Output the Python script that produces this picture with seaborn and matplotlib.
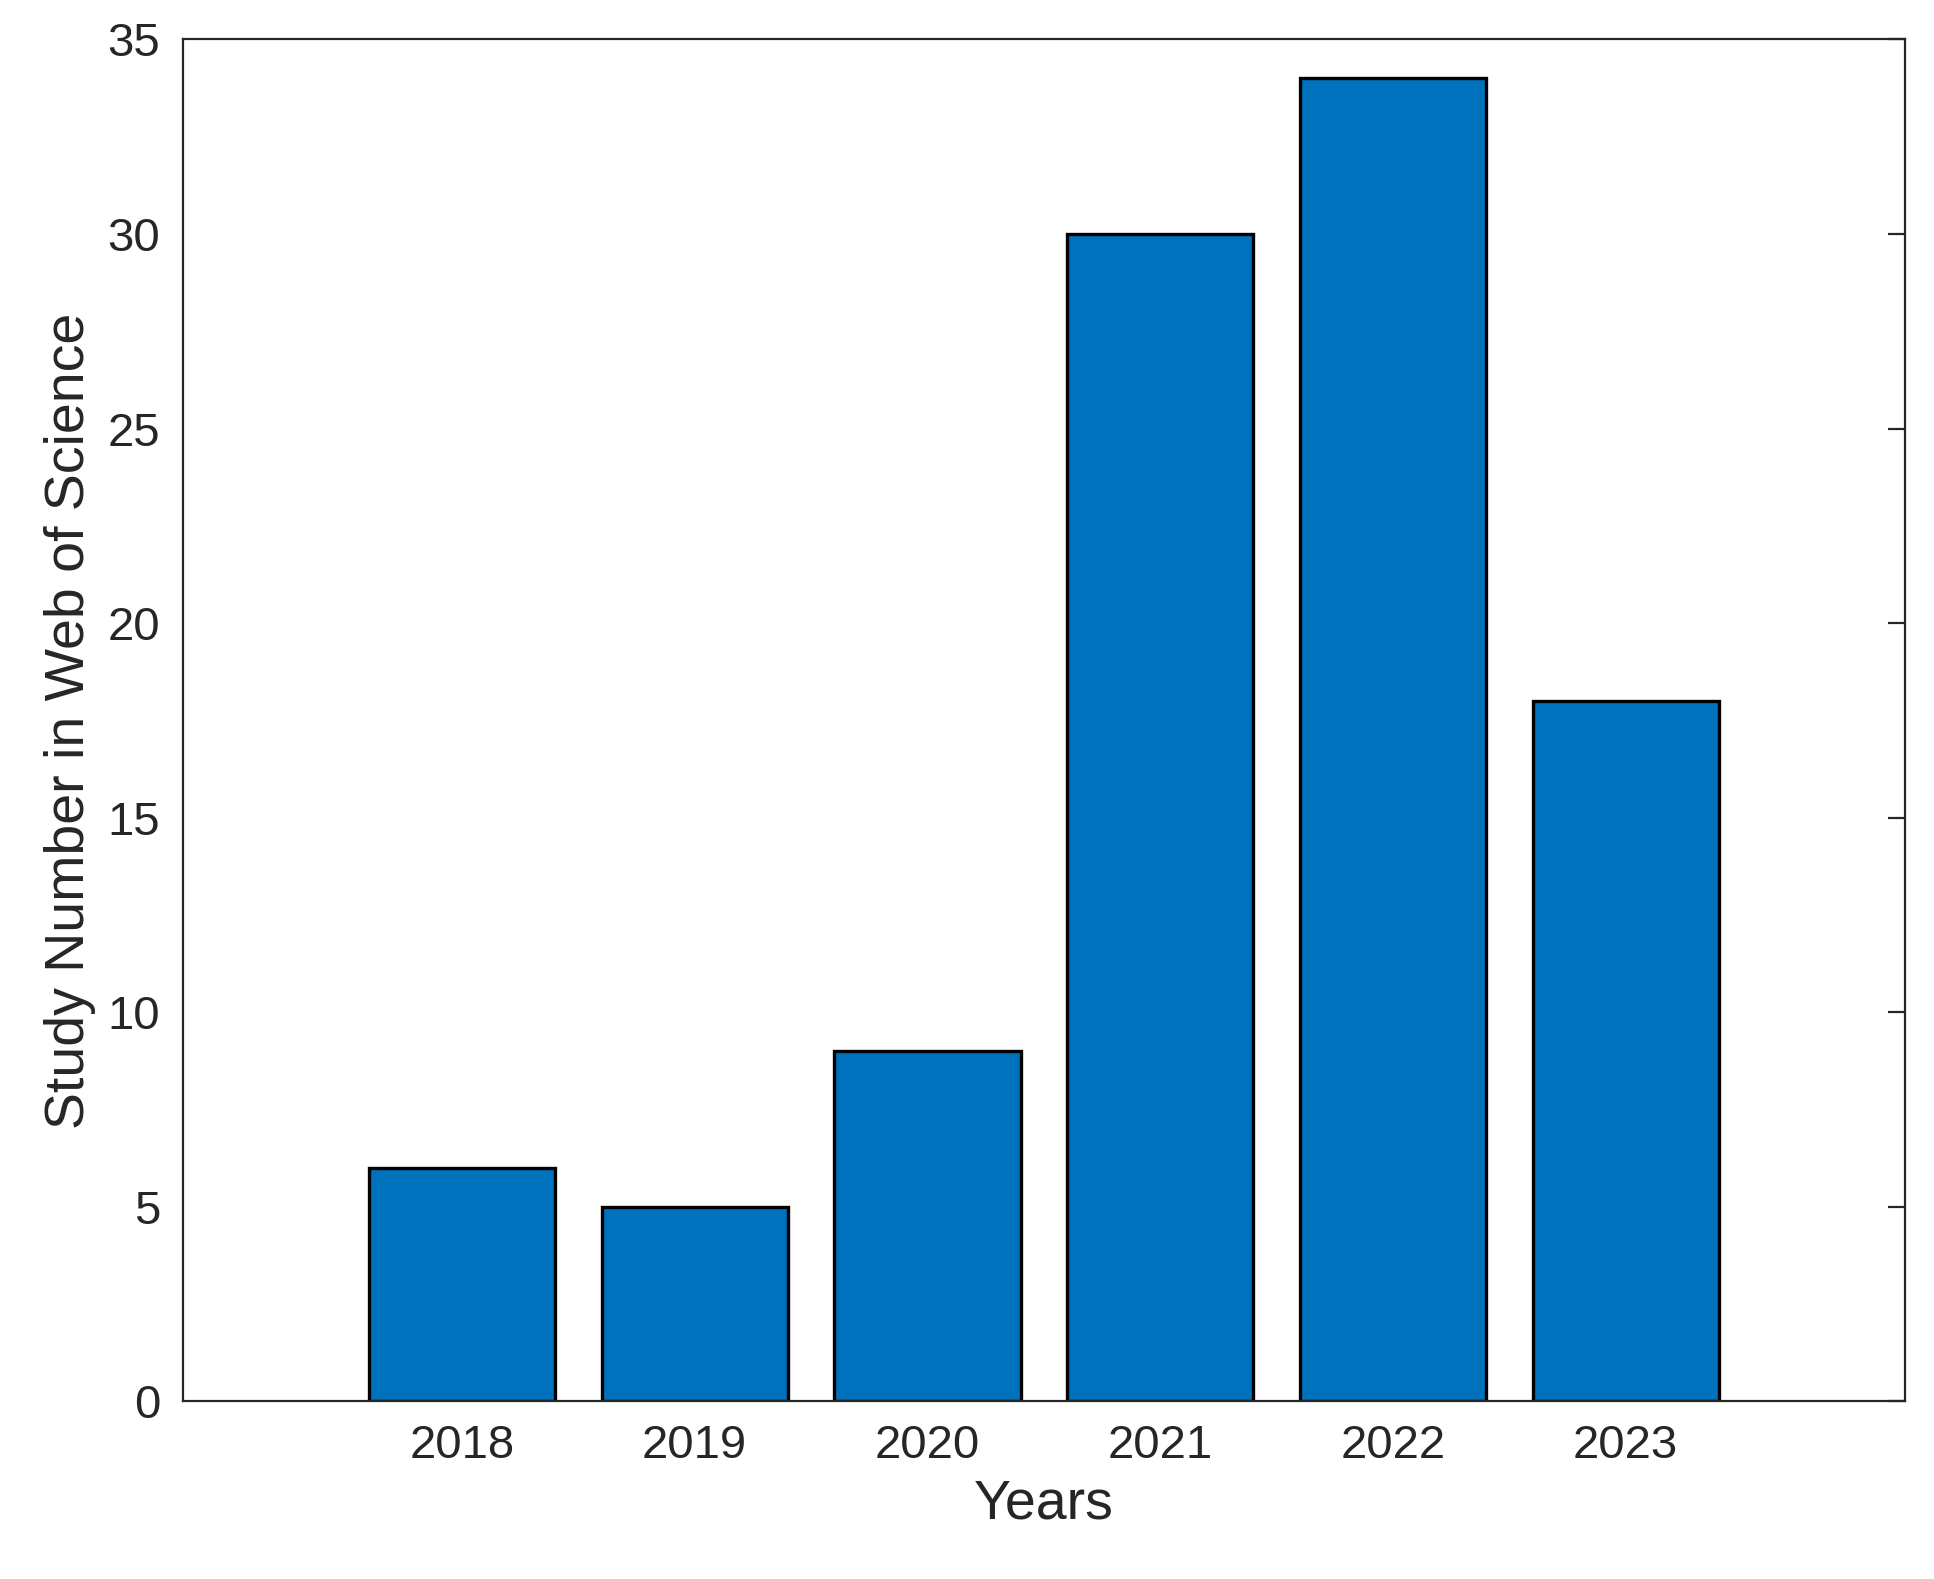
import matplotlib
matplotlib.use("Agg")
import matplotlib.pyplot as plt
import seaborn as sns
import pandas as pd

years = ["2018", "2019", "2020", "2021", "2022", "2023"]
counts = [6, 5, 9, 30, 34, 18]

sns.set_style("white")
plt.rcParams['font.family'] = ['Liberation Sans', 'DejaVu Sans']
df = pd.DataFrame({"Years": years, "Count": counts})

fig = plt.figure(figsize=(9.67, 7.895), dpi=200)
ax = fig.add_axes([0.0944, 0.1125, 0.8906, 0.8625])
sns.barplot(data=df, x="Years", y="Count", color="#0072BD", saturation=1,
            edgecolor="black", linewidth=1.2, width=0.8, ax=ax)
ax.set_xlim(-1.2, 6.2)
ax.set_ylim(0, 35)
ax.set_yticks(range(0, 36, 5))
tc = "#262626"
ax.tick_params(direction="in", length=6, width=0.8, top=True, right=True,
               labelsize=17, colors=tc, labelcolor=tc, pad=8)
ax.tick_params(axis="x", top=False)
for s in ax.spines.values():
    s.set_color(tc); s.set_linewidth(0.8); s.set_visible(True)
ax.set_xlabel("Years", fontsize=20, color=tc)
ax.set_ylabel("Study Number in Web of Science", fontsize=20, color=tc)
fig.savefig("out.png", dpi=200)
